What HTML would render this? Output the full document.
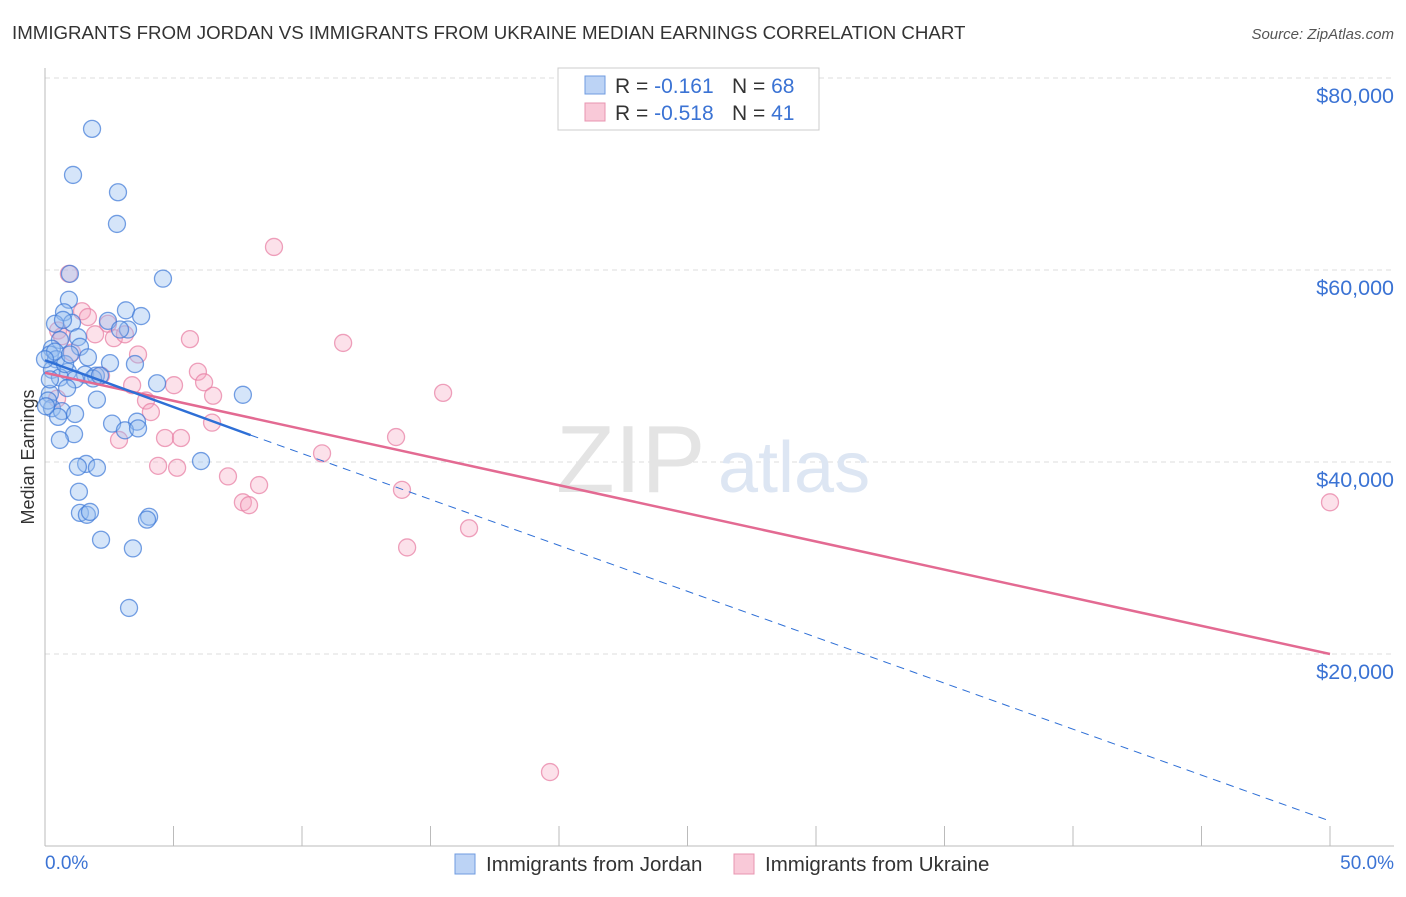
<!DOCTYPE html>
<html><head><meta charset="utf-8"><style>
body{margin:0;background:#fff;font-family:"Liberation Sans",sans-serif}
svg text{font-family:"Liberation Sans",sans-serif}
</style></head><body>
<svg width="1406" height="892" viewBox="0 0 1406 892">
<text x="12" y="39" font-size="18.7" fill="#333">IMMIGRANTS FROM JORDAN VS IMMIGRANTS FROM UKRAINE MEDIAN EARNINGS CORRELATION CHART</text>
<text x="1394" y="39" font-size="15" fill="#555" font-style="italic" text-anchor="end">Source: ZipAtlas.com</text>
<g id="grid"></g>
<line x1="45" y1="68" x2="45" y2="846" stroke="#bbb"/>
<line x1="45" y1="846" x2="1394" y2="846" stroke="#bbb"/>
<text x="556" y="492" font-size="96" fill="#e4e4e4" font-family="Liberation Serif">ZIP</text>
<text x="718" y="492" font-size="72" fill="#dde6f3">atlas</text>
<text transform="translate(34,457) rotate(-90)" font-size="18" fill="#333" text-anchor="middle">Median Earnings</text>
<text x="45" y="869" font-size="19" fill="#3b73d4">0.0%</text>
<text x="1394" y="869" font-size="19" fill="#3b73d4" text-anchor="end">50.0%</text>
<g id="points"></g>
<g id="trends"></g>
<rect x="558" y="68" width="261" height="62" fill="#fff" stroke="#ccc"/>
<rect x="585" y="76" width="20" height="18" fill="#bcd3f5" stroke="#6f9be0"/>
<rect x="585" y="103" width="20" height="18" fill="#f9c9d8" stroke="#e895b0"/>
<text x="615" y="93" font-size="21" fill="#333">R = <tspan fill="#3b73d4">-0.161</tspan><tspan x="732">N = </tspan><tspan fill="#3b73d4">68</tspan></text>
<text x="615" y="120" font-size="21" fill="#333">R = <tspan fill="#3b73d4">-0.518</tspan><tspan x="732">N = </tspan><tspan fill="#3b73d4">41</tspan></text>
<rect x="455" y="854" width="20" height="20" fill="#bcd3f5" stroke="#6f9be0"/>
<text x="486" y="871" font-size="20.5" fill="#333">Immigrants from Jordan</text>
<rect x="734" y="854" width="20" height="20" fill="#f9c9d8" stroke="#e895b0"/>
<text x="765" y="871" font-size="20.5" fill="#333">Immigrants from Ukraine</text>
</svg>
<script>
const yTicks=[20000,40000,60000,80000];
const yTickLabels=["$20,000","$40,000","$60,000","$80,000"];
const xTicks=[0,5,10,15,20,25,30,35,40,45,50];
const jordanX=[1.83,1.09,2.84,2.8,4.59,0.97,0.93,0.74,3.15,3.74,1.05,0.39,2.45,0.7,3.23,1.28,0.58,0.27,1.36,0.19,1.67,0.43,2.53,3.5,0.27,0.89,1.56,1.98,0.58,1.17,1.87,4.36,7.7,0.86,0.19,2.02,0.27,0.66,1.17,0.51,2.61,3.58,3.11,3.62,1.13,0.58,6.07,1.6,1.28,2.02,1.32,1.36,1.63,1.75,4.05,3.97,2.18,3.42,3.27,0.12,0.04,0.39,0.78,0.19,0.97,2.14,2.92,0];
const jordanY=[74700,69900,68100,64800,59100,59600,56900,55600,55800,55200,54500,54400,54700,54800,53800,53000,52700,51800,52000,51200,50900,50700,50300,50200,49600,49400,49100,49000,48800,48600,48700,48200,47000,47700,47100,46500,45600,45300,45000,44700,44000,44200,43300,43500,42900,42300,40100,39800,39500,39400,36900,34700,34500,34800,34300,34000,31900,31000,24800,46400,45800,51500,50200,48600,51200,49000,53800,50700];
const ukraineX=[0.93,8.91,1.44,1.67,2.45,0.51,0.66,1.95,2.68,5.64,11.6,3.11,3.62,1.05,5.95,2.18,6.19,3.39,5.02,6.54,15.49,3.93,0.47,4.12,6.5,2.88,4.67,5.29,13.66,10.78,4.4,5.14,7.12,8.33,7.7,7.94,13.89,16.5,14.09,19.65,50];
const ukraineY=[59600,62400,55700,55100,54400,53700,53100,53300,52900,52800,52400,53300,51200,51400,49400,49000,48300,48000,48000,46900,47200,46400,46600,45200,44100,42300,42500,42500,42600,40900,39600,39400,38500,37600,35800,35500,37100,33100,31100,7700,35800];
const jordanTrend=[[0,50600],[8,42800],[50,2600]];
const ukraineTrend=[[0,49300],[50,20000]];
const ns="http://www.w3.org/2000/svg";
const X=v=>45+v*25.7, Y=v=>846-v*0.0096;
const grid=document.getElementById('grid');
yTicks.forEach((t,i)=>{
 const l=document.createElementNS(ns,'line');
 l.setAttribute('x1',45);l.setAttribute('x2',1394);l.setAttribute('y1',Y(t));l.setAttribute('y2',Y(t));
 l.setAttribute('stroke','#ddd');l.setAttribute('stroke-dasharray','5,4');
 
 
 grid.appendChild(l);
 const tx=document.createElementNS(ns,'text');
 tx.setAttribute('x',1394);tx.setAttribute('y',Y(t)+25);tx.setAttribute('text-anchor','end');
 tx.setAttribute('font-size','21.5');tx.setAttribute('fill','#3b73d4');tx.textContent=yTickLabels[i];
 
 
 grid.appendChild(tx);
});
xTicks.forEach(t=>{
 const l=document.createElementNS(ns,'line');
 l.setAttribute('x1',X(t));l.setAttribute('x2',X(t));l.setAttribute('y1',826);l.setAttribute('y2',846);
 l.setAttribute('stroke','#bbb');
 
 
 grid.appendChild(l);
});
const pts=document.getElementById('points');
function dots(xs,ys,fill,stroke,name){
 xs.forEach((x,i)=>{
  const c=document.createElementNS(ns,'circle');
  c.setAttribute('cx',X(x));c.setAttribute('cy',Y(ys[i]));c.setAttribute('r',8.5);
  c.setAttribute('fill',fill);c.setAttribute('stroke',stroke);c.setAttribute('stroke-width','1.3');
  
  
  pts.appendChild(c);
 });
}
dots(ukraineX,ukraineY,'rgba(246,170,196,0.35)','rgba(232,130,165,0.75)','ukraine-point');
dots(jordanX,jordanY,'rgba(150,190,240,0.4)','rgba(60,120,215,0.7)','jordan-point');
const tr=document.getElementById('trends');
function seg(a,b,col,w,dash,name){
 const l=document.createElementNS(ns,'line');
 l.setAttribute('x1',X(a[0]));l.setAttribute('y1',Y(a[1]));l.setAttribute('x2',X(b[0]));l.setAttribute('y2',Y(b[1]));
 l.setAttribute('stroke',col);l.setAttribute('stroke-width',w);if(dash)l.setAttribute('stroke-dasharray',dash);
 
 
 tr.appendChild(l);
}
seg(ukraineTrend[0],ukraineTrend[1],'#e36a92',2.5,null,'ukraine-trend-line');
seg(jordanTrend[0],jordanTrend[1],'#2e6fd6',2.5,null,'jordan-trend-line');
seg(jordanTrend[1],jordanTrend[2],'#2e6fd6',1,'8,6','jordan-trend-extension');
</script>
</body></html>
